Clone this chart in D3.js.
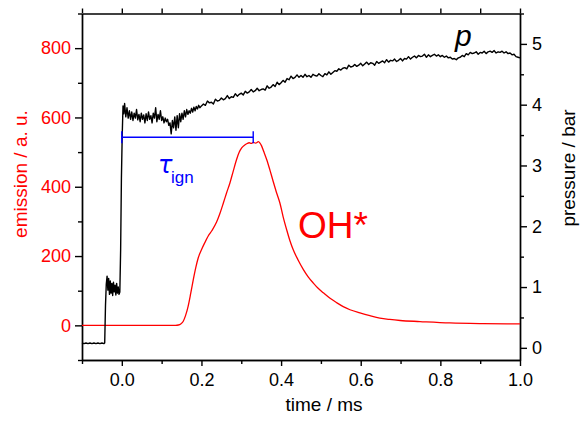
<!DOCTYPE html>
<html>
<head>
<meta charset="utf-8">
<script src="https://cdn.jsdelivr.net/npm/d3@7"></script>
<style>
  html, body { margin: 0; padding: 0; background: #fff; }
  svg { display: block; }
</style>
</head>
<body>
<svg id="chart" width="581" height="421"></svg>
<script>
// ---------- data ----------
const xMajorTicks = [0.0, 0.2, 0.4, 0.6, 0.8, 1.0];
const xMinorTicks = [-0.1, 0.1, 0.3, 0.5, 0.7, 0.9];
const leftMajorTicks = [0, 200, 400, 600, 800];
const leftMinorTicks = [-100, 100, 300, 500, 700, 900];
const rightMajorTicks = [0, 1, 2, 3, 4, 5];
const rightMinorTicks = [0.5, 1.5, 2.5, 3.5, 4.5, 5.5];

// OH* emission (a. u.) vs time (ms)
const ohEmission = [
  [-0.1,0],[0.0,0],[0.10,0],[0.135,0],[0.142,1],[0.148,4],[0.154,11],[0.160,28],[0.1665,55],
  [0.173,92],[0.1795,132],[0.186,168],[0.192,195],[0.200,218],[0.209,240],[0.217,258],[0.226,273],
  [0.238,298],[0.247,325],[0.255,353],[0.263,382],[0.2715,411],[0.280,446],[0.288,478],[0.295,500],
  [0.301,512],[0.308,520],[0.3135,524],[0.320,527],[0.325,525],[0.330,528],[0.336,526],[0.343,530],
  [0.347,526],[0.351,518],[0.357,500],[0.364,478],[0.372,448],[0.380,416],[0.388,385],[0.397,353],
  [0.405,314],[0.414,276],[0.422,245],[0.4305,218],[0.443,188],[0.456,161],[0.468,140],[0.481,122],
  [0.493,107],[0.506,94],[0.523,78],[0.540,65],[0.556,54],[0.573,45],[0.598,36],[0.623,28],
  [0.648,21],[0.673,17],[0.699,14],[0.749,11],[0.824,7],[0.907,5],[1.0,4]
];

// pressure (bar) vs time (ms)
const pressure = [
  [-0.100,0.08],[-0.095,0.07],[-0.090,0.08],[-0.085,0.07],[-0.080,0.08],[-0.075,0.07],[-0.070,0.08],
  [-0.065,0.07],[-0.060,0.08],[-0.055,0.07],[-0.050,0.08],[-0.045,0.07],[-0.043,0.08],
  [-0.041,0.70],[-0.039,1.05],[-0.037,1.18],[-0.035,0.95],[-0.033,1.14],[-0.031,0.88],[-0.029,1.10],
  [-0.027,0.90],[-0.025,1.06],[-0.023,0.86],[-0.021,1.08],[-0.019,0.92],[-0.017,1.03],[-0.015,0.87],
  [-0.013,1.06],[-0.011,0.90],[-0.009,1.00],[-0.007,0.88],[-0.005,0.92],[-0.003,1.60],[-0.001,2.80],
  [0.001,3.50],[0.003,3.98],[0.005,3.85],[0.007,4.02],[0.010,3.80],[0.013,3.95],[0.016,3.78],
  [0.019,3.90],[0.022,3.76],[0.025,3.88],[0.028,3.74],[0.031,3.86],[0.034,3.78],[0.037,3.92],
  [0.040,3.75],[0.043,3.84],[0.046,3.72],[0.049,3.86],[0.052,3.76],[0.055,3.83],[0.058,3.70],
  [0.061,3.85],[0.064,3.74],[0.067,3.88],[0.070,3.76],[0.073,3.82],[0.076,3.70],[0.079,3.86],
  [0.082,3.78],[0.085,3.95],[0.088,3.72],[0.091,3.84],[0.094,3.76],[0.097,3.90],[0.100,3.74],
  [0.103,3.80],[0.106,3.70],[0.109,3.78],[0.112,3.72],[0.115,3.76],[0.118,3.66],[0.121,3.70],
  [0.124,3.52],[0.127,3.74],[0.130,3.62],[0.133,3.80],[0.136,3.58],[0.139,3.82],[0.142,3.62],
  [0.145,3.85],[0.148,3.72],[0.151,3.86],[0.154,3.76],[0.157,3.90],[0.160,3.80],[0.163,3.92],
  [0.166,3.84],[0.169,3.90],[0.172,3.86],[0.175,3.94],[0.178,3.88],[0.181,3.96],[0.184,3.90],
  [0.187,3.97],[0.190,3.93],[0.193,3.99],[0.196,3.95],[0.200,3.98],
  [0.205,4.01],[0.210,3.99],[0.215,4.06],[0.220,4.03],[0.225,4.04],[0.230,4.01],[0.235,4.09],
  [0.240,4.06],[0.245,4.07],[0.250,4.11],[0.255,4.08],[0.260,4.10],[0.265,4.15],[0.270,4.10],
  [0.275,4.13],[0.280,4.12],[0.285,4.18],[0.290,4.14],[0.295,4.17],[0.300,4.19],[0.305,4.16],
  [0.310,4.22],[0.315,4.19],[0.320,4.21],[0.325,4.25],[0.330,4.21],[0.335,4.23],[0.340,4.27],
  [0.345,4.23],[0.350,4.25],[0.355,4.26],[0.360,4.24],[0.365,4.31],[0.370,4.27],[0.375,4.29],
  [0.380,4.33],[0.385,4.30],[0.390,4.37],[0.395,4.33],[0.400,4.36],[0.405,4.40],[0.410,4.37],
  [0.415,4.43],[0.420,4.41],[0.425,4.47],[0.430,4.43],[0.435,4.45],[0.440,4.49],[0.445,4.45],
  [0.450,4.48],[0.455,4.45],[0.460,4.50],[0.465,4.46],[0.470,4.48],[0.475,4.45],[0.480,4.50],
  [0.485,4.48],[0.490,4.47],[0.495,4.51],[0.500,4.48],[0.505,4.46],[0.510,4.51],[0.515,4.49],
  [0.520,4.54],[0.525,4.50],[0.530,4.53],[0.535,4.56],[0.540,4.55],[0.545,4.59],[0.550,4.57],
  [0.555,4.60],[0.560,4.61],[0.565,4.59],[0.570,4.65],[0.575,4.62],[0.580,4.63],[0.585,4.66],
  [0.590,4.63],[0.595,4.65],[0.600,4.68],[0.605,4.64],[0.610,4.67],[0.615,4.70],[0.620,4.66],
  [0.625,4.69],[0.630,4.68],[0.635,4.65],[0.640,4.71],[0.645,4.68],[0.650,4.70],[0.655,4.72],
  [0.660,4.69],[0.665,4.74],[0.670,4.70],[0.675,4.73],[0.680,4.72],[0.685,4.75],[0.690,4.71],
  [0.695,4.73],[0.700,4.76],[0.705,4.72],[0.710,4.76],[0.715,4.75],[0.720,4.79],[0.725,4.75],
  [0.730,4.78],[0.735,4.80],[0.740,4.77],[0.745,4.81],[0.750,4.79],[0.755,4.80],[0.760,4.83],
  [0.765,4.78],[0.770,4.82],[0.775,4.79],[0.780,4.81],[0.785,4.83],[0.790,4.80],[0.795,4.82],
  [0.800,4.79],[0.805,4.81],[0.810,4.78],[0.815,4.80],[0.820,4.77],[0.825,4.78],[0.830,4.75],
  [0.835,4.76],[0.840,4.74],[0.845,4.77],[0.850,4.78],[0.855,4.81],[0.860,4.79],[0.865,4.84],
  [0.870,4.82],[0.875,4.86],[0.880,4.84],[0.885,4.85],[0.890,4.87],[0.895,4.83],[0.900,4.86],
  [0.905,4.85],[0.910,4.88],[0.915,4.84],[0.920,4.87],[0.925,4.88],[0.930,4.86],[0.935,4.89],
  [0.940,4.85],[0.945,4.87],[0.950,4.86],[0.955,4.88],[0.960,4.85],[0.965,4.87],[0.970,4.84],
  [0.975,4.85],[0.980,4.82],[0.985,4.83],[0.990,4.79],[0.995,4.78],[1.000,4.77]
];

// ignition delay marker: from t0 to t1 at emission level
const ignStart = 0.0;
const ignEnd = 0.33;
const ignLevel = 543;

// ---------- layout ----------
const FONT = "'Liberation Sans', Arial, Helvetica, sans-serif";
const plot = { left: 82, right: 520, top: 13.5, bottom: 360 };

const x = d3.scaleLinear().domain([-0.1, 1.0]).range([plot.left, plot.right]);
const yL = d3.scaleLinear().domain([-100, 900]).range([plot.bottom, plot.top]);
const yR = d3.scaleLinear().domain([-0.2, 5.5]).range([plot.bottom, plot.top]);

const svg = d3.select("#chart");

function styleAxis(g, textColor) {
  g.select(".domain").attr("stroke", "#000").attr("stroke-width", 1.4);
  g.selectAll(".tick line").attr("stroke", "#000").attr("stroke-width", 1.4);
  g.selectAll("text").attr("font-family", FONT).attr("font-size", 18).attr("fill", textColor);
}

// bottom axis
svg.append("g").attr("transform", `translate(0,${plot.bottom})`)
  .call(d3.axisBottom(x).tickValues(xMinorTicks).tickSize(4).tickSizeOuter(0).tickFormat(""))
  .call(g => styleAxis(g, "#000"));
svg.append("g").attr("transform", `translate(0,${plot.bottom})`)
  .call(d3.axisBottom(x).tickValues(xMajorTicks).tickSize(6).tickSizeOuter(0).tickPadding(7)
    .tickFormat(d3.format(".1f")))
  .call(g => styleAxis(g, "#000"));

// top axis (mirror)
svg.append("g").attr("transform", `translate(0,${plot.top})`)
  .call(d3.axisTop(x).tickValues(xMajorTicks.concat(xMinorTicks)).tickSize(5).tickSizeOuter(0).tickFormat(""))
  .call(g => styleAxis(g, "#000"));

// left axis
svg.append("g").attr("transform", `translate(${plot.left},0)`)
  .call(d3.axisLeft(yL).tickValues(leftMinorTicks).tickSize(4).tickSizeOuter(0).tickFormat(""))
  .call(g => styleAxis(g, "red"));
svg.append("g").attr("transform", `translate(${plot.left},0)`)
  .call(d3.axisLeft(yL).tickValues(leftMajorTicks).tickSize(7).tickSizeOuter(0).tickPadding(4)
    .tickFormat(d3.format("d")))
  .call(g => styleAxis(g, "red"));

// right axis
svg.append("g").attr("transform", `translate(${plot.right},0)`)
  .call(d3.axisRight(yR).tickValues(rightMinorTicks).tickSize(4).tickSizeOuter(0).tickFormat(""))
  .call(g => styleAxis(g, "#000"));
svg.append("g").attr("transform", `translate(${plot.right},0)`)
  .call(d3.axisRight(yR).tickValues(rightMajorTicks).tickSize(7).tickSizeOuter(0).tickPadding(5)
    .tickFormat(d3.format("d")))
  .call(g => styleAxis(g, "#000"));

// axis titles
svg.append("text").attr("x", 324).attr("y", 411).attr("text-anchor", "middle")
  .attr("font-family", FONT).attr("font-size", 19).attr("fill", "#000").text("time / ms");
svg.append("text").attr("transform", "translate(20,174) rotate(-90)")
  .attr("text-anchor", "middle").attr("dominant-baseline", "central")
  .attr("font-family", FONT).attr("font-size", 19).attr("fill", "red").text("emission / a. u.");
svg.append("text").attr("transform", "translate(568,168) rotate(-90)")
  .attr("text-anchor", "middle").attr("dominant-baseline", "central")
  .attr("font-family", FONT).attr("font-size", 19).attr("fill", "#000").text("pressure / bar");

// OH* emission line
svg.append("path").datum(ohEmission)
  .attr("fill", "none").attr("stroke", "red").attr("stroke-width", 1.3)
  .attr("d", d3.line().x(d => x(d[0])).y(d => yL(d[1])).curve(d3.curveMonotoneX));

// pressure trace
svg.append("path").datum(pressure)
  .attr("fill", "none").attr("stroke", "#000").attr("stroke-width", 1.4).attr("stroke-linejoin", "round")
  .attr("d", d3.line().x(d => x(d[0])).y(d => yR(d[1])));

// ignition-delay bracket
const bx0 = x(ignStart), bx1 = x(ignEnd), by = yL(ignLevel);
const blue = "#0000ff";
svg.append("line").attr("x1", bx0).attr("x2", bx1).attr("y1", by).attr("y2", by)
  .attr("stroke", blue).attr("stroke-width", 1.4);
[bx0, bx1].forEach(bx => {
  svg.append("line").attr("x1", bx).attr("x2", bx).attr("y1", by - 6).attr("y2", by + 6)
    .attr("stroke", blue).attr("stroke-width", 1.4);
});

// annotations
svg.append("text").attr("x", 158).attr("y", 173)
  .attr("font-family", "'DejaVu Sans', sans-serif").attr("font-style", "italic")
  .attr("font-size", 24).attr("fill", blue).text("τ");
svg.append("text").attr("x", 171).attr("y", 183)
  .attr("font-family", FONT).attr("font-size", 17).attr("fill", blue).text("ign");
svg.append("text").attr("x", 298).attr("y", 238)
  .attr("font-family", FONT).attr("font-size", 37).attr("fill", "red").text("OH*");
svg.append("text").attr("x", 455).attr("y", 46)
  .attr("font-family", FONT).attr("font-style", "italic")
  .attr("font-size", 30).attr("fill", "#000").text("p");
</script>
</body>
</html>
